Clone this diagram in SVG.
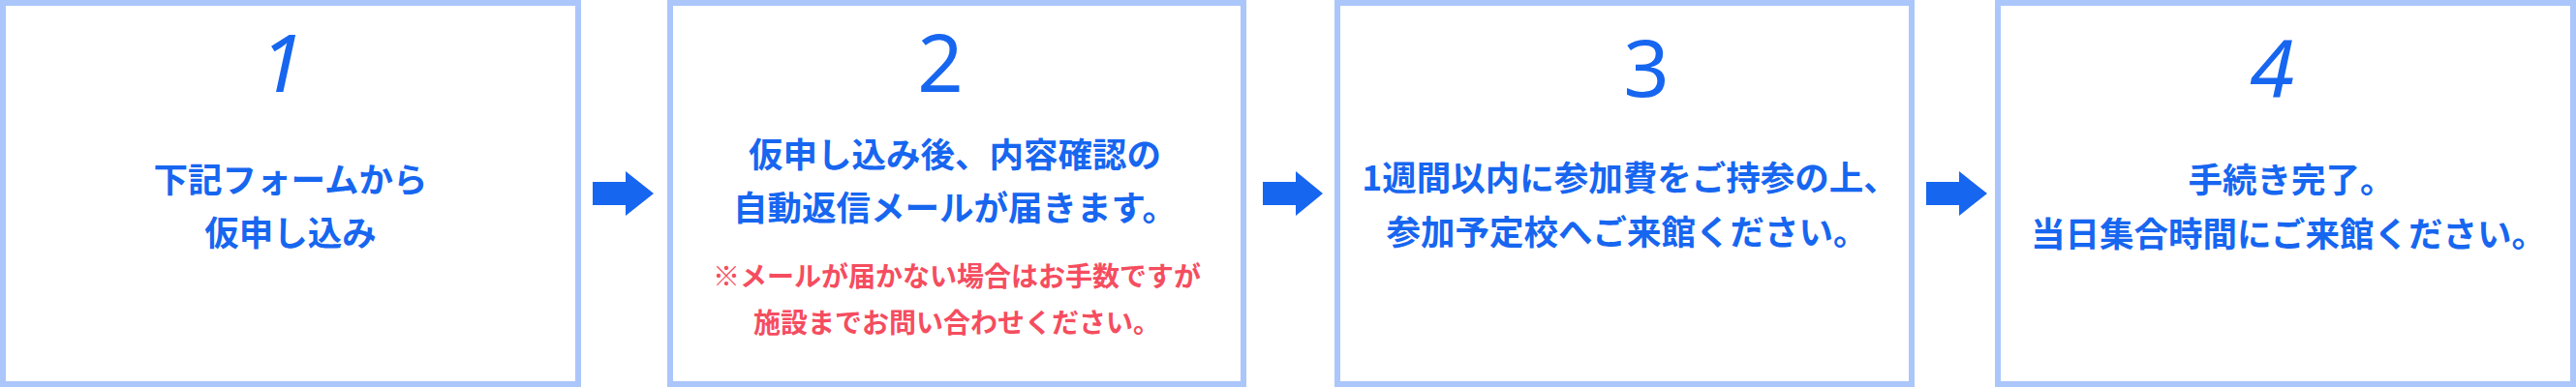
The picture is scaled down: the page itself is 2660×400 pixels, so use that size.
<svg xmlns="http://www.w3.org/2000/svg" width="2660" height="400" viewBox="0 0 2660 400">
<style>
.box{fill:#ffffff;stroke:#abc6fb;stroke-width:6}
.num{font-family:"Noto Sans","DejaVu Sans",sans-serif;font-size:83px;fill:#1766f0;text-anchor:middle}
.it{font-style:italic}
.t{font-family:"Noto Sans CJK JP","Noto Sans",sans-serif;font-weight:700;font-size:35.5px;fill:#1766f0;text-anchor:middle}
.r{font-family:"Noto Sans CJK JP","Noto Sans",sans-serif;font-weight:700;font-size:28px;fill:#f54d5f;text-anchor:middle}
.arr{fill:#1766f0}
</style>
<rect x="0" y="0" width="2660" height="400" fill="#ffffff"/>
<g id="step1">
<rect class="box" x="3" y="3" width="594" height="394"/>
<text class="num it" x="291" y="95">1</text>
<text class="t" x="300" y="199">下記フォームから</text>
<text class="t" x="300" y="254">仮申し込み</text>
</g>
<g id="step2">
<rect class="box" x="692" y="3" width="592" height="394"/>
<text class="num" x="971" y="95">2</text>
<text class="t" x="986" y="173">仮申し込み後、内容確認の</text>
<text class="t" x="986" y="228">自動返信メールが届きます。</text>
<text class="r" x="988" y="296">※メールが届かない場合はお手数ですが</text>
<text class="r" x="988" y="344">施設までお問い合わせください。</text>
</g>
<g id="step3">
<rect class="box" x="1381" y="3" width="593" height="394"/>
<text class="num" x="1700" y="100">3</text>
<text class="t" x="1683" y="197">1週間以内に参加費をご持参の上、</text>
<text class="t" x="1680" y="253">参加予定校へご来館ください。</text>
</g>
<g id="step4">
<rect class="box" x="2063" y="3" width="594" height="394"/>
<text class="num it" x="2346" y="100">4</text>
<text class="t" x="2366" y="199">手続き完了。</text>
<text class="t" x="2363" y="255">当日集合時間にご来館ください。</text>
</g>
<g id="connectors">
<polygon class="arr" points="612,188 646,188 646,177 675,200 646,223 646,212 612,212"/>
<polygon class="arr" points="1304,188 1338,188 1338,177 1366,200 1338,223 1338,212 1304,212"/>
<polygon class="arr" points="1989,188 2023,188 2023,177 2052,200 2023,223 2023,212 1989,212"/>
</g>
</svg>
